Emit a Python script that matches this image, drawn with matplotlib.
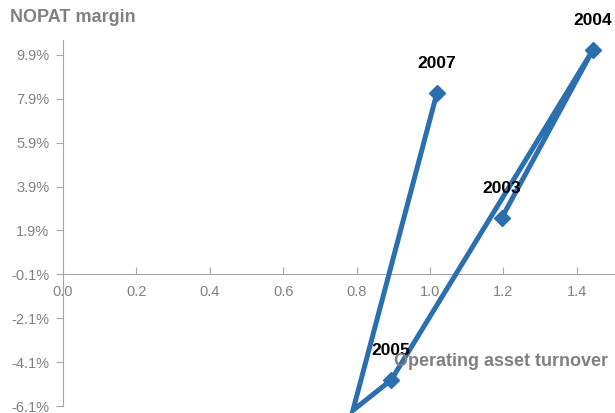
import matplotlib
matplotlib.use("Agg")
import matplotlib.pyplot as plt
import numpy as np
from matplotlib.ticker import FixedLocator

plt.rcParams['font.family'] = ['Liberation Sans', 'DejaVu Sans']

years = ["2003", "2004", "2005", "2006", "2007"]
turnover = [1.196, 1.444, 0.894, 0.790, 1.019]
margin = [2.49, 10.13, -4.92, -6.30, 8.17]

xticks = [0.0, 0.2, 0.4, 0.6, 0.8, 1.0, 1.2, 1.4]
yticks = [-6.1, -4.1, -2.1, -0.1, 1.9, 3.9, 5.9, 7.9, 9.9]

blue = '#2b6fae'
gray = '#808080'
ymin, ymax = -6.1, 10.58

fig = plt.figure(figsize=(6.15, 4.13), dpi=100)
ax = fig.add_axes([63/615, 1 - 406/413, (613.5 - 63)/615, (406 - 40)/413])
ax.set_xlim(0, 1.5)
ax.set_ylim(ymin, ymax)

ax.plot(turnover, margin, color=blue, lw=3.6, clip_on=False, zorder=3,
        solid_joinstyle='miter')
inside = np.array(margin) >= ymin
mx = np.array(turnover)[inside]
my = np.array(margin)[inside]
ax.plot(mx, my, ls='none', marker='D', ms=8, color=blue, zorder=4)

for x, y, lab, s in zip(turnover, margin, years, inside):
    if s:
        ax.annotate(lab, (x, y), xytext=(0, 21), textcoords='offset points',
                    ha='center', va='center', fontsize=12.5, fontweight='bold',
                    color='black', zorder=6)

for sp in ['top', 'right']:
    ax.spines[sp].set_visible(False)
ax.spines['left'].set_color('#a6a6a6')
ax.spines['bottom'].set_color('#a6a6a6')
ax.spines['bottom'].set_position(('data', -0.1))
ax.spines['left'].set_position(('data', 0))

ax.xaxis.set_major_locator(FixedLocator(xticks))
ax.yaxis.set_major_locator(FixedLocator(yticks))
ax.set_xticklabels([f"{v:.1f}" for v in xticks])
ax.set_yticklabels([f"{v:.1f}%" for v in yticks])
ax.tick_params(axis='x', direction='in', length=5, color='#a6a6a6',
               labelcolor=gray, labelsize=10.5, pad=8)
ax.tick_params(axis='y', direction='out', length=5, color='#a6a6a6',
               labelcolor=gray, labelsize=10.5, pad=5)

fig.text(10/615, 1 - 18/413, "NOPAT margin", fontsize=13, fontweight='bold',
         color=gray, ha='left', va='center')
fig.text(608/615, 1 - 362/413, "Operating asset turnover", fontsize=13,
         fontweight='bold', color=gray, ha='right', va='center', zorder=7)

fig.savefig("out.png", dpi=100)
